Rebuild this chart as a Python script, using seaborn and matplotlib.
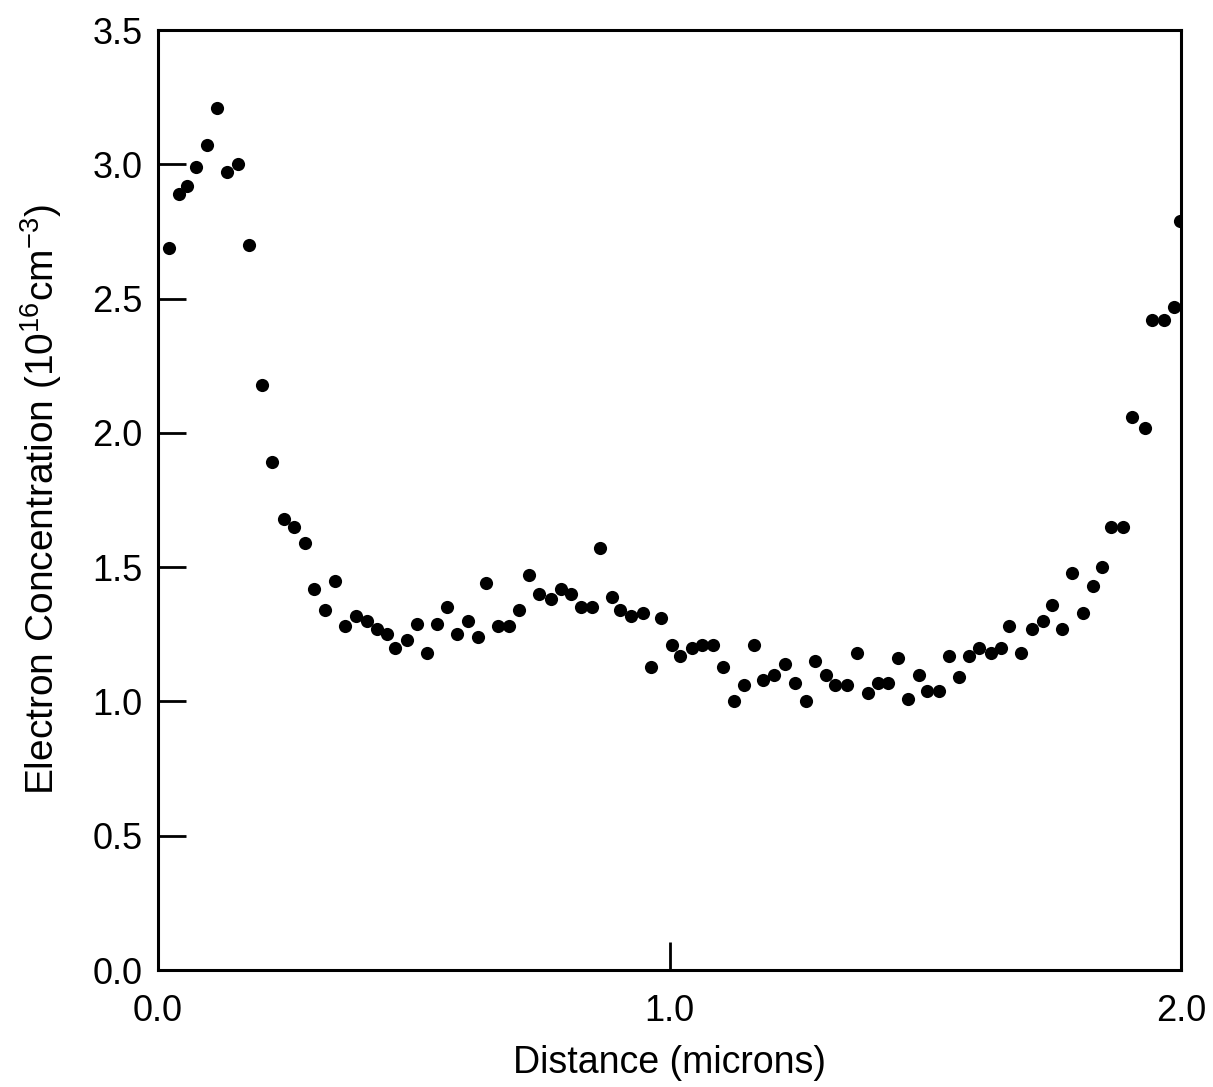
import seaborn as sns
import matplotlib.pyplot as plt

# Electron concentration profile
distance = [
    0.023, 0.041, 0.058, 0.074, 0.096, 0.115, 0.136, 0.156, 0.178, 0.203,
    0.224, 0.246, 0.267, 0.287, 0.306, 0.326, 0.346, 0.366, 0.387, 0.408,
    0.428, 0.448, 0.464, 0.488, 0.506, 0.526, 0.546, 0.565, 0.584, 0.606,
    0.626, 0.642, 0.665, 0.686, 0.706, 0.725, 0.745, 0.768, 0.787, 0.807,
    0.827, 0.849, 0.865, 0.887, 0.903, 0.924, 0.948, 0.963, 0.984, 1.005,
    1.021, 1.043, 1.063, 1.085, 1.104, 1.125, 1.146, 1.164, 1.183, 1.204,
    1.225, 1.245, 1.267, 1.285, 1.305, 1.324, 1.347, 1.366, 1.387, 1.408,
    1.427, 1.446, 1.466, 1.487, 1.503, 1.527, 1.545, 1.566, 1.585, 1.605,
    1.627, 1.648, 1.664, 1.687, 1.708, 1.730, 1.748, 1.767, 1.786, 1.808,
    1.828, 1.845, 1.862, 1.885, 1.904, 1.928, 1.942, 1.965, 1.986, 1.997,
]
concentration = [
    2.69, 2.89, 2.92, 2.99, 3.07, 3.21, 2.97, 3.00, 2.70, 2.18,
    1.89, 1.68, 1.65, 1.59, 1.42, 1.34, 1.45, 1.28, 1.32, 1.30,
    1.27, 1.25, 1.20, 1.23, 1.29, 1.18, 1.29, 1.35, 1.25, 1.30,
    1.24, 1.44, 1.28, 1.28, 1.34, 1.47, 1.40, 1.38, 1.42, 1.40,
    1.35, 1.35, 1.57, 1.39, 1.34, 1.32, 1.33, 1.13, 1.31, 1.21,
    1.17, 1.20, 1.21, 1.21, 1.13, 1.00, 1.06, 1.21, 1.08, 1.10,
    1.14, 1.07, 1.00, 1.15, 1.10, 1.06, 1.06, 1.18, 1.03, 1.07,
    1.07, 1.16, 1.01, 1.10, 1.04, 1.04, 1.17, 1.09, 1.17, 1.20,
    1.18, 1.20, 1.28, 1.18, 1.27, 1.30, 1.36, 1.27, 1.48, 1.33,
    1.43, 1.50, 1.65, 1.65, 2.06, 2.02, 2.42, 2.42, 2.47, 2.79,
]

y_ticks = [0.0, 0.5, 1.0, 1.5, 2.0, 2.5, 3.0, 3.5]
x_ticks = [0.0, 1.0, 2.0]

sns.set_style('ticks')
plt.rcParams['font.family'] = ['Liberation Sans', 'DejaVu Sans']
plt.rcParams['mathtext.default'] = 'regular'
plt.rcParams['text.color'] = 'black'
plt.rcParams['axes.labelcolor'] = 'black'

fig = plt.figure(figsize=(12.13, 10.87), dpi=100)
ax = fig.add_axes([0.130, 0.1076, 0.844, 0.8648])

sns.scatterplot(x=distance, y=concentration, color='black', s=90,
                linewidth=0, ax=ax)

ax.set_xlim(0, 2.0)
ax.set_ylim(0, 3.5)
ax.set_xticks(x_ticks)
ax.set_xticklabels([f'{t:.1f}' for t in x_ticks])
ax.set_yticks(y_ticks)
ax.set_yticklabels([f'{t:.1f}' for t in y_ticks])
ax.tick_params(axis='y', direction='in', length=20, width=2, pad=11,
               labelsize=26, colors='black')
ax.tick_params(axis='x', direction='in', length=20, width=2, pad=17,
               labelsize=26, colors='black')

for side in ['left', 'right', 'top', 'bottom']:
    ax.spines[side].set_visible(True)
    ax.spines[side].set_linewidth(2.2)
    ax.spines[side].set_color('black')

ax.set_xlabel('Distance (microns)', fontsize=27, labelpad=12)
ax.set_ylabel(r'Electron Concentration (10$^{16}$cm$^{-3}$)', fontsize=28,
              labelpad=20)

fig.savefig('out.png', dpi=100)
